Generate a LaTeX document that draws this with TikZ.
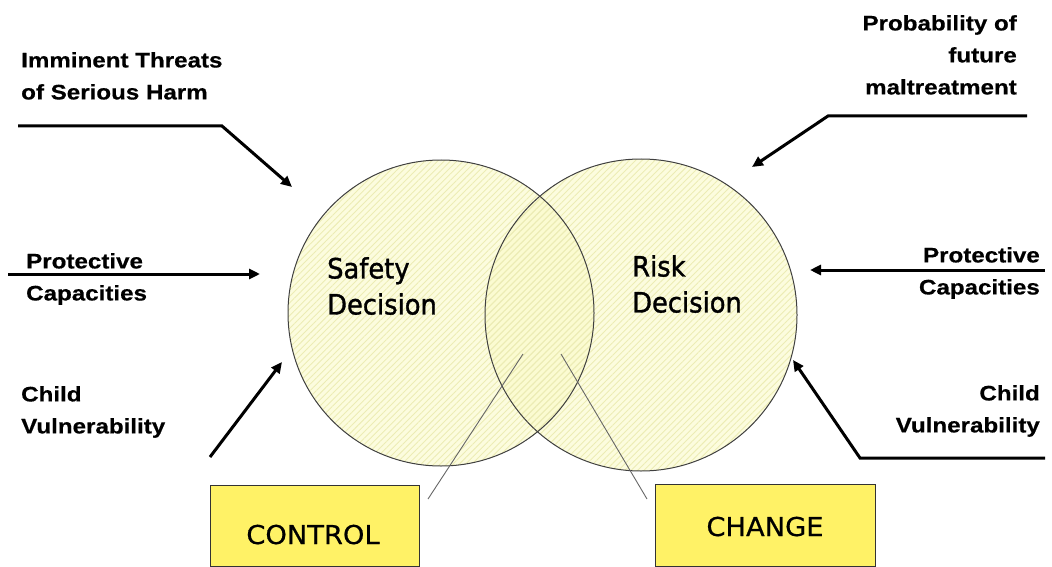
\documentclass[tikz,border=0pt]{standalone}
\usepackage{fontspec}
\usepackage{xcolor}
\usetikzlibrary{arrows.meta,backgrounds,patterns.meta}
\newfontfamily\factorfont[FakeStretch=1.15,FakeBold=0.6]{Liberation Sans}
\newfontfamily\comicfont[FakeStretch=0.92,FakeBold=1.2]{DejaVu Sans}
\newfontfamily\boxfont[FakeStretch=1.05,FakeBold=0.6]{DejaVu Sans}
\definecolor{circfill}{RGB}{250,250,200}
\definecolor{hatch}{RGB}{236,236,180}
\definecolor{boxyellow}{RGB}{255,242,102}

\begin{document}
\begin{tikzpicture}[x=1pt,y=-1pt]
  \tikzstyle{factor}=[inner sep=0pt, font=\factorfont\bfseries\fontsize{21}{32}\selectfont]
  \tikzstyle{circ}=[circle, draw=black!75, line width=1pt, inner sep=0pt]
  \tikzstyle{head}=[inner sep=0pt, align=left, font=\comicfont\fontsize{28}{36}\selectfont]
  \tikzstyle{action}=[rectangle, draw=black!80, line width=1pt, fill=boxyellow, inner sep=0pt]
  \tikzstyle{actiontext}=[inner sep=0pt, font=\boxfont\fontsize{26}{30}\selectfont]
  \tikzstyle{feed}=[line width=3pt, -{Triangle[length=11pt,width=10pt]}]
  \tikzstyle{link}=[draw=black!60, line width=0.9pt]

  \useasboundingbox (0,0) rectangle (1052,567);

  % Decision circles
  \node[circ, minimum size=306pt] (safety) at (441,313) {};
  \node[circ, minimum size=312pt] (risk) at (641,315) {};
  \begin{scope}[on background layer]
    \fill[circfill, fill opacity=0.6] (safety.center) circle[radius=153];
    \fill[circfill, fill opacity=0.6] (risk.center) circle[radius=156];
    \path[pattern={Lines[angle=45,distance=4.5pt,line width=0.9pt]}, pattern color=hatch] (safety.center) circle[radius=153];
    \path[pattern={Lines[angle=45,distance=4.5pt,line width=0.9pt]}, pattern color=hatch] (risk.center) circle[radius=156];
  \end{scope}
  \node[head, anchor=north west] (safetytext) at (327,257) {Safety\\Decision};
  \node[head, anchor=north west] (risktext) at (632,255) {Risk\\Decision};

  % Left side factors
  \node[factor, anchor=north west, align=left] (threats) at (21,52) {Imminent Threats\\of Serious Harm};
  \node[factor, anchor=north west, align=left] (protectL) at (26,253) {Protective\\Capacities};
  \node[factor, anchor=north west, align=left] (childL) at (21,386) {Child\\Vulnerability};
  \coordinate (threatsA) at (18,126);
  \coordinate (threatsB) at (222,126);
  \coordinate (threatsC) at (292,187);
  \coordinate (protectLA) at (8,274);
  \coordinate (protectLB) at (260,274);
  \coordinate (childLA) at (210,457);
  \coordinate (childLB) at (282,362);
  \draw[feed] (threatsA) -- (threatsB) -- (threatsC);
  \draw[feed] (protectLA) -- (protectLB);
  \draw[feed] (childLA) -- (childLB);

  % Right side factors
  \node[factor, anchor=north east, align=right] (future) at (1017,15) {Probability of\\future\\maltreatment};
  \node[factor, anchor=north east, align=right] (protectR) at (1040,247) {Protective\\Capacities};
  \node[factor, anchor=north east, align=right] (childR) at (1040,385) {Child\\Vulnerability};
  \coordinate (futureA) at (1027,116);
  \coordinate (futureB) at (828,116);
  \coordinate (futureC) at (752,167);
  \coordinate (protectRA) at (1045,270);
  \coordinate (protectRB) at (810,270);
  \coordinate (childRA) at (1045,458);
  \coordinate (childRB) at (860,458);
  \coordinate (childRC) at (793,360);
  \draw[feed] (futureA) -- (futureB) -- (futureC);
  \draw[feed] (protectRA) -- (protectRB);
  \draw[feed] (childRA) -- (childRB) -- (childRC);

  % Control / Change boxes
  \coordinate (controlA) at (523,354);
  \coordinate (controlB) at (428,499);
  \coordinate (changeA) at (561,354);
  \coordinate (changeB) at (647,499);
  \draw[link] (controlA) -- (controlB);
  \draw[link] (changeA) -- (changeB);
  \node[action, minimum width=209pt, minimum height=81pt] (control) at (314.5,525.5) {};
  \node[actiontext, anchor=base] (controltext) at (313,544) {CONTROL};
  \node[action, minimum width=220pt, minimum height=82pt] (change) at (765,525) {};
  \node[actiontext, anchor=base] (changetext) at (765,536) {CHANGE};
\end{tikzpicture}
\end{document}
